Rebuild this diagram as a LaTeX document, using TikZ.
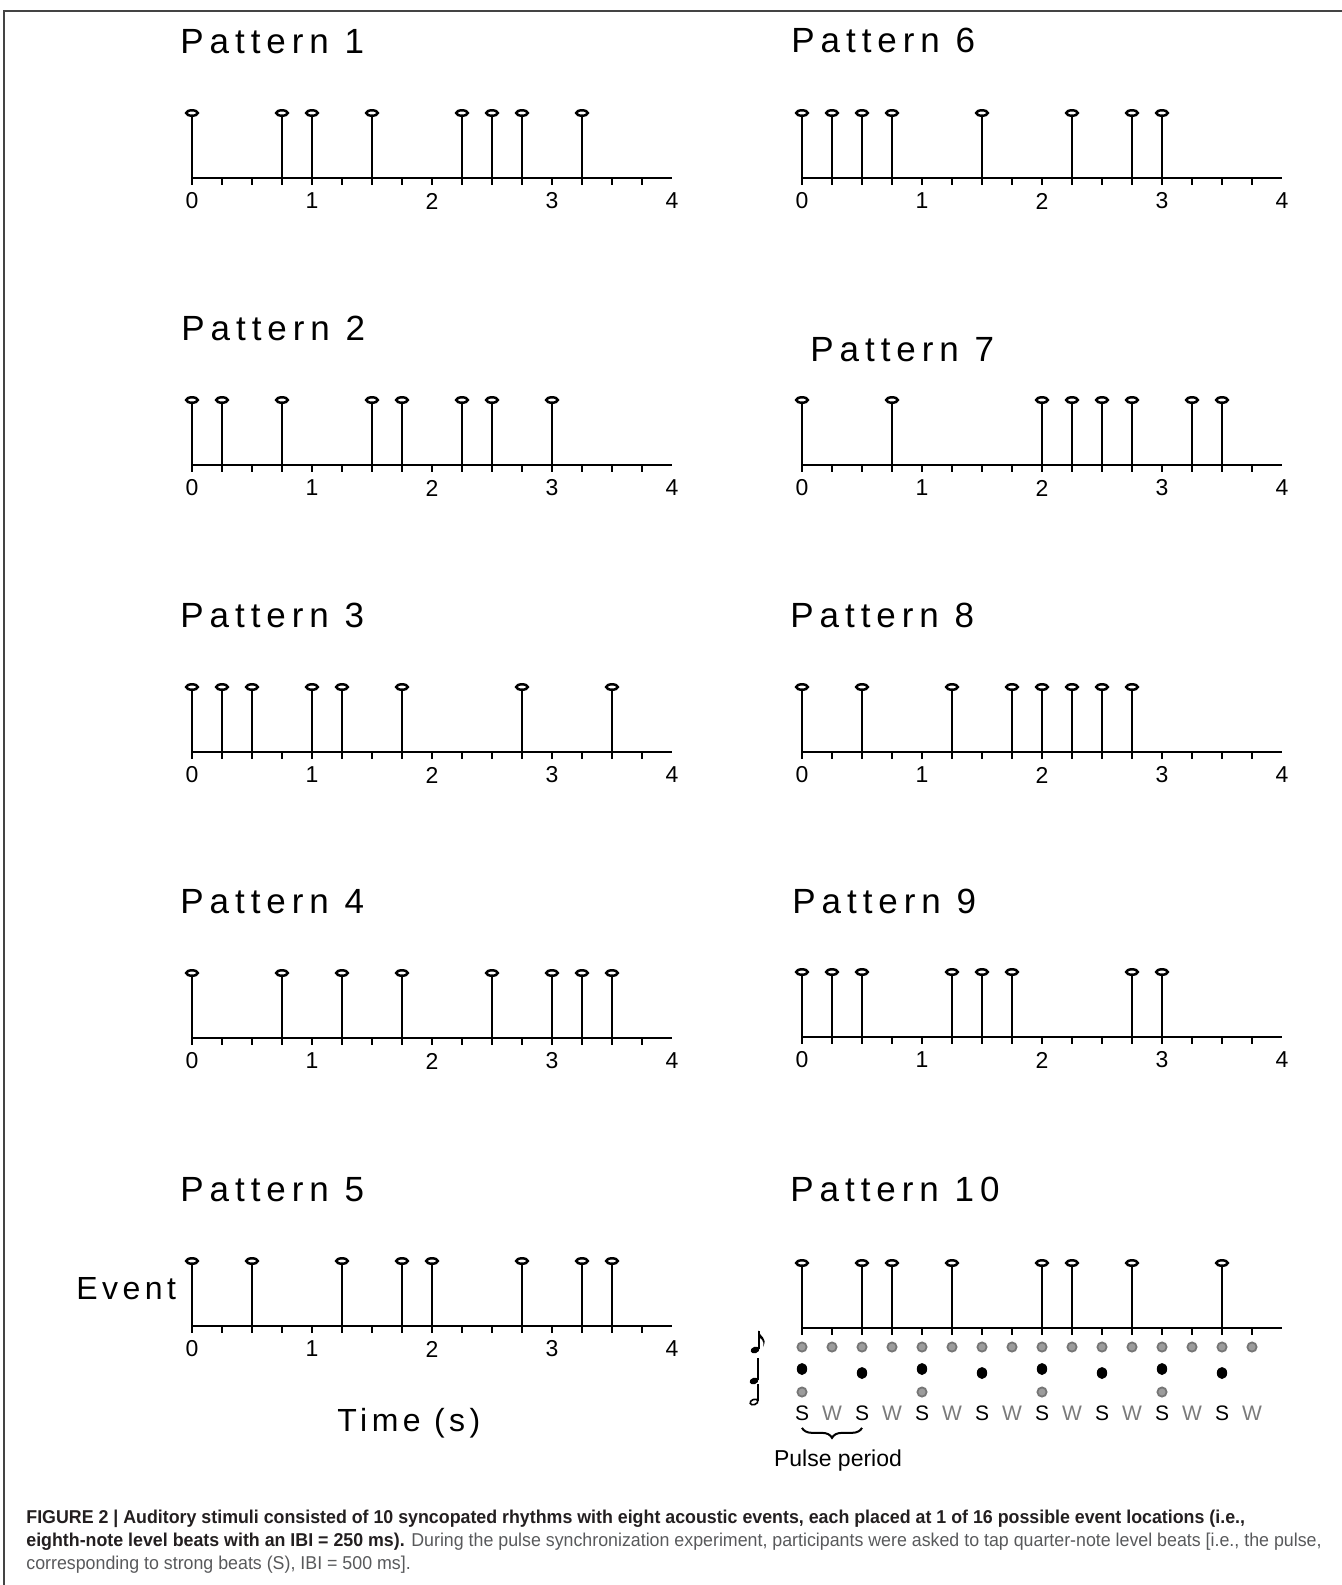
\documentclass[tikz,border=0pt]{standalone}
\usepackage{fontspec}
\setmainfont{Liberation Sans}
\newfontfamily\ttlfont[LetterSpace=17]{Liberation Sans}
\newfontfamily\lblfont[LetterSpace=14]{Liberation Sans}
\newfontfamily\capfont[FakeStretch=0.957]{Liberation Sans}
\usetikzlibrary{positioning,calc,shapes.geometric,decorations.pathreplacing}
\definecolor{frgrey}{HTML}{444444}
\definecolor{dotgrey}{HTML}{9C9C9C}
\definecolor{dotring}{HTML}{767676}
\definecolor{wgrey}{HTML}{7A7A7A}
\definecolor{capdark}{HTML}{231F20}
\definecolor{capgrey}{HTML}{58595B}

\begin{document}
\begin{tikzpicture}[
  x=0.5pt, y=-0.5pt,
  axisline/.style={line width=1.3pt, black},
  tickmark/.style={line width=1.1pt, black},
  stem/.style={line width=1.2pt, black},
  evt/.style={
    ellipse, draw, line width=1.25pt, fill=white,
    inner sep=0pt, minimum width=5.8pt, minimum height=2.7pt},
  ticklbl/.style={font=\fontsize{11.5}{12}\selectfont, inner sep=0pt},
  ttl/.style={font=\ttlfont\fontsize{17.5}{20}\selectfont, anchor=base west, inner sep=0pt},
  axlbl/.style={font=\lblfont\fontsize{16}{18}\selectfont, anchor=base west, inner sep=0pt},
  gdot/.style={circle, draw=dotring, fill=dotgrey, line width=0.9pt,
    inner sep=0pt, minimum size=4.6pt},
  bdot/.style={ellipse, fill=black, inner sep=0pt,
    minimum width=5.2pt, minimum height=6pt},
  swlbl/.style={font=\fontsize{10.5}{12}\selectfont, inner sep=0pt},
  pbrace/.style={decorate, decoration={brace, mirror, amplitude=5pt}, line width=1pt},
  capline/.style={font=\capfont\fontsize{9.3}{11}\selectfont, text=capgrey,
    anchor=base west, inner sep=0pt},
]
  \useasboundingbox (0,0) rectangle (1342,1585);

  %% ---- Marco ----
  \draw[frgrey, line width=0.9pt] (4,1585) -- (4,11) -- (1342,11);

  %% ---- Ejes y eventos de cada patron ----
  \foreach \pid/\ox/\oy/\evs in {
    1/192/178/{0,3,4,6,9,10,11,13},
    2/192/465/{0,1,3,6,7,9,10,12},
    3/192/752/{0,1,2,4,5,7,11,14},
    4/192/1038/{0,3,5,7,10,12,13,14},
    5/192/1326/{0,2,5,7,8,11,13,14},
    6/802/178/{0,1,2,3,6,9,11,12},
    7/802/465/{0,3,8,9,10,11,13,14},
    8/802/752/{0,2,5,7,8,9,10,11},
    9/802/1037/{0,1,2,5,6,7,11,12},
    10/802/1328/{0,2,3,5,8,9,11,14}}{
    \coordinate (o\pid) at (\ox,\oy);
    \coordinate (end\pid) at (\ox+480,\oy);
    \draw[axisline] (o\pid) -- (end\pid);
    \foreach \k in {0,...,15}
      \draw[tickmark] ($(o\pid)+(\k*30,0)$) -- ++(0,7);
    \ifnum\pid<10
      \foreach \t in {0,...,4}
        \node[ticklbl] (lbl\pid-\t) at ($(o\pid)+(\t*120,23)$) {\t};
    \fi
    \foreach \e in \evs {
      \coordinate (b\pid-\e) at ($(o\pid)+(\e*30,0)$);
      \node[evt] (ev\pid-\e) at ($(b\pid-\e)+(0,-65)$) {};
      \draw[stem] (b\pid-\e) -- (ev\pid-\e.south);
    }
  }

  %% ---- Titulos ----
  \node[ttl] (t1)  at (180,53.5)   {Pattern 1};
  \node[ttl] (t2)  at (181,340.5)  {Pattern 2};
  \node[ttl] (t3)  at (180,627.5)  {Pattern 3};
  \node[ttl] (t4)  at (180,913.5)  {Pattern 4};
  \node[ttl] (t5)  at (180,1201.5) {Pattern 5};
  \node[ttl] (t6)  at (791,52.5)   {Pattern 6};
  \node[ttl] (t7)  at (810,361.8)  {Pattern 7};
  \node[ttl] (t8)  at (790,627.5)  {Pattern 8};
  \node[ttl] (t9)  at (792,913.5)  {Pattern 9};
  \node[ttl] (t10) at (790,1201.5) {Pattern 10};

  %% ---- Ejes: rotulos ----
  \node[axlbl] (evlbl) at (76,1299) {Event};
  \node[axlbl] (tlbl)  at (337,1431) {Time (s)};

  %% ---- Niveles metricos (patron 10) ----
  \foreach \k in {0,...,15}
    \node[gdot] (e8-\k) at ($(o10)+(\k*30,19)$) {};
  \foreach \k in {0,4,8,12}
    \node[bdot] (q4-\k) at ($(o10)+(\k*30,41)$) {};
  \foreach \k in {2,6,10,14}
    \node[bdot] (q4-\k) at ($(o10)+(\k*30,45)$) {};
  \foreach \k in {0,4,8,12}
    \node[gdot] (h2-\k) at ($(o10)+(\k*30,64)$) {};
  \foreach \k in {0,2,...,14}
    \node[swlbl] (sw\k) at ($(o10)+(\k*30,85)$) {S};
  \foreach \k in {1,3,...,15}
    \node[swlbl, text=wgrey] (sw\k) at ($(o10)+(\k*30,85)$) {W};

  \draw[pbrace] ($(sw0.south)+(0,7)$) -- ($(sw2.south)+(0,7)$)
    coordinate[midway] (brmid);
  \node[font=\fontsize{11.5}{13}\selectfont, anchor=base, inner sep=0pt]
    (pulse) at (838,1466) {Pulse period};

  %% ---- Figuras musicales ----
  % corchea
  \fill[rotate around={20:(755,1350)}] (755,1350) ellipse [x radius=4.5, y radius=3.2];
  \draw[line width=0.9pt] (759,1349) -- (759,1331);
  \fill (758.5,1330) .. controls (760,1338) and (768,1337) .. (763,1347)
    .. controls (765,1340) and (760,1338) .. (758.5,1337) -- cycle;
  % negra
  \fill[rotate around={20:(754,1381)}] (754,1381) ellipse [x radius=4.5, y radius=3.2];
  \draw[line width=0.9pt] (758,1380) -- (758,1358);
  % blanca
  \draw[line width=0.8pt, rotate around={20:(754,1402)}] (754,1402) ellipse [x radius=4, y radius=2.6];
  \draw[line width=0.9pt] (758,1401) -- (758,1384);

  %% ---- Pie de figura ----
  \node[capline] (cap1) at (26,1523) {\textbf{\color{capdark}FIGURE 2 | Auditory stimuli consisted of 10 syncopated rhythms with eight acoustic events, each placed at 1 of 16 possible event locations (i.e.,}};
  \node[capline] (cap2) at (26,1546) {\textbf{\color{capdark}eighth-note level beats with an IBI = 250 ms).} During the pulse synchronization experiment, participants were asked to tap quarter-note level beats [i.e., the pulse,};
  \node[capline] (cap3) at (26,1569) {corresponding to strong beats (S), IBI = 500 ms].};

\end{tikzpicture}
\end{document}
